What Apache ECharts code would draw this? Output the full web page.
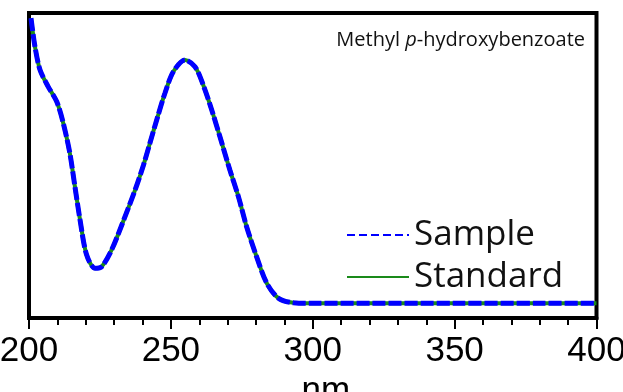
<!DOCTYPE html>
<html>
<head>
<meta charset="utf-8">
<style>
  html, body { margin: 0; padding: 0; background: #fff; }
  #chart { width: 623px; height: 392px; }
</style>
<script src="https://cdn.jsdelivr.net/npm/echarts@6/dist/echarts.min.js"></script>
</head>
<body>
<div id="chart"></div>
<script>
// UV spectrum (nm vs relative absorbance)
const wavelength = [
  200.7, 202.1, 203.9, 206.8, 209.8, 212.1, 214.4, 216.2, 218.0, 220.3,
  223.3, 225.6, 229.1, 232.7, 237.4, 240.3, 242.6, 245.0, 247.9,
  250.9, 255.0, 258.5, 261.4, 264.4, 267.3, 270.8, 273.8, 276.7, 280.2,
  283.8, 287.9, 293.2, 300, 320, 350, 380, 400
];
const sampleAbs = [
  0.983, 0.890, 0.813, 0.758, 0.709, 0.638, 0.540, 0.430, 0.321, 0.207,
  0.163, 0.168, 0.223, 0.305, 0.420, 0.500, 0.573, 0.649, 0.737,
  0.808, 0.846, 0.824, 0.764, 0.682, 0.594, 0.485, 0.398, 0.299, 0.201,
  0.114, 0.065, 0.050, 0.048, 0.048, 0.048, 0.048, 0.048
];
const standardAbs = [
  0.983, 0.890, 0.813, 0.758, 0.709, 0.638, 0.540, 0.430, 0.321, 0.207,
  0.163, 0.168, 0.223, 0.305, 0.420, 0.500, 0.573, 0.649, 0.737,
  0.808, 0.846, 0.824, 0.764, 0.682, 0.594, 0.485, 0.398, 0.299, 0.201,
  0.114, 0.065, 0.050, 0.048, 0.048, 0.048, 0.048, 0.048
];
const seriesNames = ["Sample", "Standard"];
const xTicks = [200, 250, 300, 350, 400];

const pairs = (ys) => wavelength.map((x, i) => [x, ys[i]]);

const chart = echarts.init(document.getElementById("chart"));
chart.setOption({
  animation: false,
  title: {
    text: "{a|Methyl }{b|p}{a|-hydroxybenzoate}",
    right: 38,
    top: 30,
    padding: 0,
    textStyle: {
      rich: {
        a: { fontFamily: "Open Sans", fontSize: 20, fontWeight: "normal", color: "#111" },
        b: { fontFamily: "Open Sans", fontSize: 20, fontWeight: "normal", fontStyle: "italic", color: "#111" }
      }
    }
  },
  legend: {
    orient: "vertical",
    left: 341,
    top: 211,
    itemWidth: 62,
    itemHeight: 14,
    itemGap: 4,
    textStyle: { fontFamily: "Open Sans", fontSize: 35, lineHeight: 38, color: "#111" },
    data: [
      {
        name: seriesNames[0],
        itemStyle: { opacity: 0 },
        lineStyle: { width: 2, type: [8, 4] }
      },
      {
        name: seriesNames[1],
        itemStyle: { opacity: 0 },
        lineStyle: { width: 2 }
      }
    ]
  },
  grid: {
    left: 29,
    right: 26.5,
    top: 13,
    bottom: 74,
    outerBoundsMode: "none",
    show: true,
    borderColor: "#000",
    borderWidth: 4
  },
  xAxis: {
    type: "value",
    min: xTicks[0],
    max: xTicks[xTicks.length - 1],
    interval: 50,
    name: "nm",
    nameLocation: "middle",
    nameGap: 45,
    nameTextStyle: {
      fontFamily: "Liberation Sans",
      fontSize: 35,
      color: "#000",
      padding: [0, 0, 0, 26]
    },
    axisLine: { lineStyle: { color: "#000", width: 4 } },
    axisTick: { length: 11, lineStyle: { color: "#000", width: 2 } },
    minorTick: { show: true, splitNumber: 5, length: 7, lineStyle: { color: "#000", width: 2 } },
    axisLabel: { fontFamily: "Liberation Sans", fontSize: 35, color: "#000", margin: 16 },
    splitLine: { show: false }
  },
  yAxis: {
    type: "value",
    min: 0,
    max: 1,
    show: false
  },
  series: [
    {
      name: seriesNames[1],
      type: "line",
      smooth: 0.3,
      showSymbol: false,
      symbol: "none",
      color: "#1a8a1a",
      lineStyle: { width: 4, color: "#1a8a1a" },
      data: pairs(standardAbs)
    },
    {
      name: seriesNames[0],
      type: "line",
      smooth: 0.3,
      showSymbol: false,
      symbol: "none",
      color: "#0000ff",
      lineStyle: { width: 5, color: "#0000ff", type: [13, 3] },
      data: pairs(sampleAbs)
    }
  ]
});
</script>
</body>
</html>
